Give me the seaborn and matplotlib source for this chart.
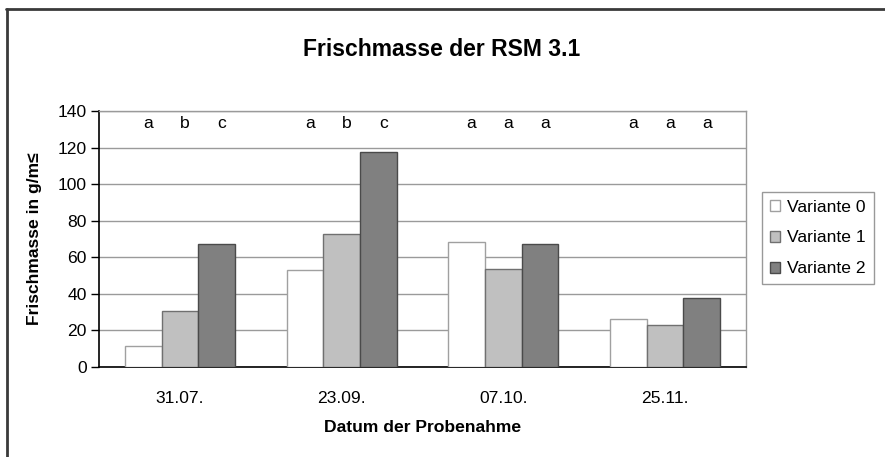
import matplotlib
matplotlib.use("Agg")
import matplotlib.pyplot as plt
from matplotlib.lines import Line2D
from matplotlib.patches import Patch
import seaborn as sns
import pandas as pd

categories = ["31.07.", "23.09.", "07.10.", "25.11."]
variants = ["Variante 0", "Variante 1", "Variante 2"]
values_v0 = [11.5, 53, 68.5, 26]
values_v1 = [30.5, 72.5, 53.5, 23]
values_v2 = [67, 117.5, 67.5, 37.5]
letters_v0 = ["a", "a", "a", "a"]
letters_v1 = ["b", "b", "a", "a"]
letters_v2 = ["c", "c", "a", "a"]
y_ticks = [0, 20, 40, 60, 80, 100, 120, 140]

fills = ["#FFFFFF", "#C0C0C0", "#808080"]
edges = ["#A0A0A0", "#707070", "#4A4A4A"]

rows = []
for v, vals in zip(variants, [values_v0, values_v1, values_v2]):
    for c, val in zip(categories, vals):
        rows.append({"Datum": c, "Variante": v, "Wert": val})
df = pd.DataFrame(rows)

sns.set_style("white")
plt.rcParams["font.family"] = ["Liberation Sans", "DejaVu Sans"]
plt.rcParams["text.color"] = "black"
plt.rcParams["axes.labelcolor"] = "black"
plt.rcParams["xtick.color"] = "black"
plt.rcParams["ytick.color"] = "black"

FS = 12.6

fig = plt.figure(figsize=(8.85, 4.57), dpi=100)
ax = fig.add_axes([99 / 885, 1 - 367 / 457, 647 / 885, 256 / 457])

sns.barplot(data=df, x="Datum", y="Wert", hue="Variante", order=categories,
            hue_order=variants, palette=fills, width=0.68, gap=0,
            linewidth=1, ax=ax, legend=False)
for cont, ec in zip(ax.containers, edges):
    for bar in cont:
        bar.set_edgecolor(ec)
        bar.set_linewidth(1)
        bar.set_zorder(3)

ax.set_ylim(0, 140)
ax.set_xlim(-0.5, len(categories) - 0.5)
ax.set_yticks(y_ticks)
ax.set_yticklabels([str(t) for t in y_ticks], fontsize=FS)
ax.yaxis.grid(True, color="#9A9A9A", linewidth=1, zorder=0)
ax.set_axisbelow(True)

ax.set_xticks(range(len(categories)))
ax.set_xticklabels(categories, fontsize=FS)
ax.tick_params(axis="x", which="major", length=0, pad=17)
ax.set_xticks([i - 0.5 for i in range(len(categories) + 1)], minor=True)
ax.tick_params(axis="x", which="minor", length=6, width=1, color="black", direction="out")
ax.tick_params(axis="y", which="major", length=6, width=1, color="black", direction="out", left=True, pad=3)

for s in ["left", "bottom"]:
    ax.spines[s].set_color("black")
    ax.spines[s].set_linewidth(1.2)
ax.spines["right"].set_color("#9A9A9A")
ax.spines["right"].set_linewidth(1)
ax.spines["top"].set_color("#9A9A9A")
ax.spines["top"].set_linewidth(1)

ax.set_xlabel("Datum der Probenahme", fontsize=FS, fontweight="bold", labelpad=10)
ax.set_ylabel("Frischmasse in g/m≤", fontsize=FS, fontweight="bold", labelpad=11)

bw = 0.68 / 3
for j, lets in enumerate([letters_v0, letters_v1, letters_v2]):
    for i, l in enumerate(lets):
        ax.text(i + (j - 1) * bw + 0.03, 133, l, ha="center", va="center", fontsize=FS)

fig.text(442 / 885, 1 - 50 / 457, "Frischmasse der RSM 3.1", ha="center", va="center",
         fontsize=16.5, fontweight="bold")

handles = [Patch(facecolor=f, edgecolor=e, linewidth=1) for f, e in zip(fills, edges)]
leg = fig.legend(handles, variants, loc="center left",
                 bbox_to_anchor=(762 / 885, 1 - 238 / 457), fontsize=FS,
                 frameon=True, fancybox=False, handlelength=0.6, handleheight=0.6,
                 handletextpad=0.4, labelspacing=0.9, borderpad=0.45, borderaxespad=0)
leg.get_frame().set_edgecolor("#808080")
leg.get_frame().set_linewidth(1)

fig.add_artist(Line2D([7 / 885, 7 / 885], [0, 1 - 9 / 457], transform=fig.transFigure,
                      color="#3A3A3A", linewidth=2))
fig.add_artist(Line2D([6 / 885, 1], [1 - 9 / 457, 1 - 9 / 457], transform=fig.transFigure,
                      color="#3A3A3A", linewidth=2))

fig.savefig("out.png", dpi=100)
